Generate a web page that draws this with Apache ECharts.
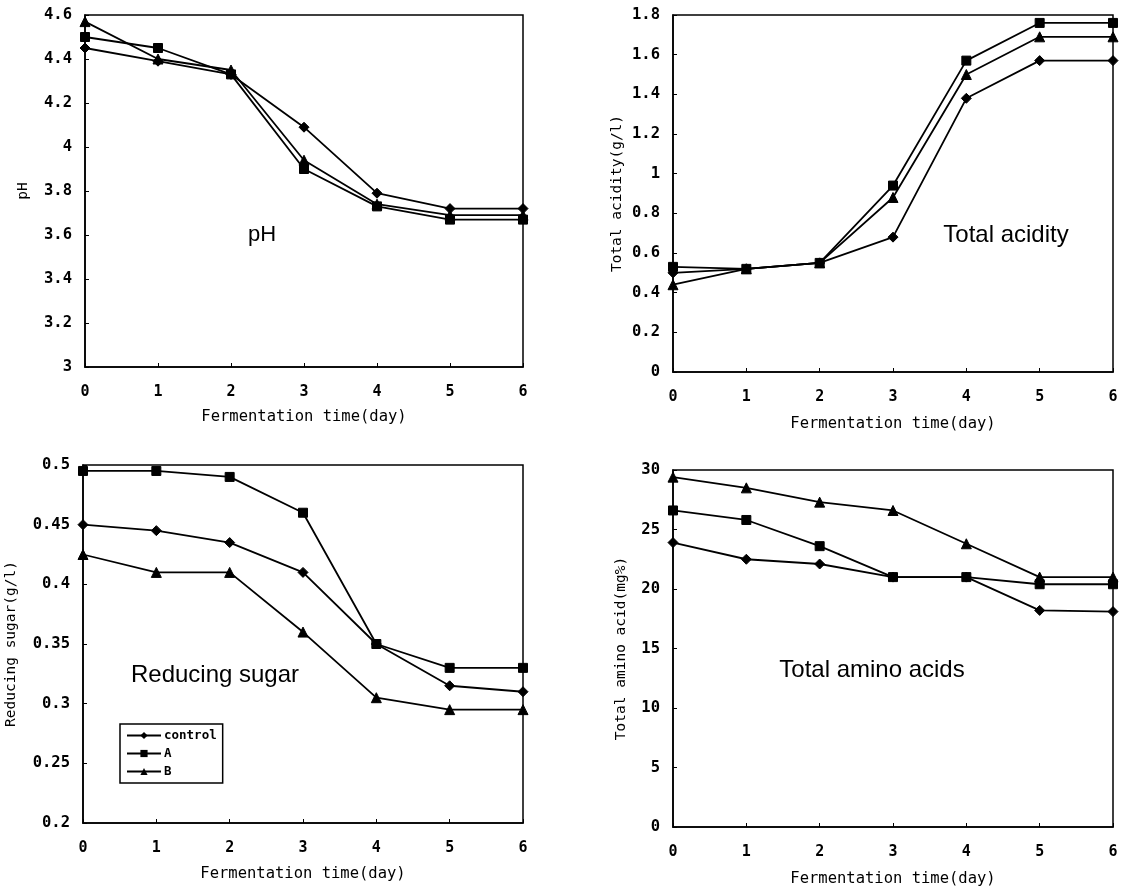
<!DOCTYPE html>
<html>
<head>
<meta charset="utf-8">
<script src="https://cdn.jsdelivr.net/npm/echarts@6/dist/echarts.min.js"></script>
<style>
html,body{margin:0;padding:0;background:#fff;}
#chart{width:1127px;height:889px;}
</style>
</head>
<body>
<div id="chart"></div>
<script>
// Categories (fermentation day)
const days = ['0','1','2','3','4','5','6'];
const seriesNames = ['control','A','B'];

// pH
const phControl = [4.45, 4.39, 4.33, 4.09, 3.79, 3.72, 3.72];
const phA       = [4.50, 4.45, 4.33, 3.90, 3.73, 3.67, 3.67];
const phB       = [4.57, 4.40, 4.35, 3.94, 3.74, 3.69, 3.69];

// Total acidity (g/l)
const taControl = [0.50, 0.52, 0.55, 0.68, 1.38, 1.57, 1.57];
const taA       = [0.53, 0.52, 0.55, 0.94, 1.57, 1.76, 1.76];
const taB       = [0.44, 0.52, 0.55, 0.88, 1.50, 1.69, 1.69];

// Reducing sugar (g/l)
const rsControl = [0.450, 0.445, 0.435, 0.410, 0.350, 0.315, 0.310];
const rsA       = [0.495, 0.495, 0.490, 0.460, 0.350, 0.330, 0.330];
const rsB       = [0.425, 0.410, 0.410, 0.360, 0.305, 0.295, 0.295];

// Total amino acid (mg%)
const aaControl = [23.9, 22.5, 22.1, 21.0, 21.0, 18.2, 18.1];
const aaA       = [26.6, 25.8, 23.6, 21.0, 21.0, 20.4, 20.4];
const aaB       = [29.4, 28.5, 27.3, 26.6, 23.8, 21.0, 21.0];

const panels = [
  {data:[phControl,phA,phB], yName:'pH', min:3, max:4.6, interval:0.2, dec:1, label:'pH'},
  {data:[taControl,taA,taB], yName:'Total acidity(g/l)', min:0, max:1.8, interval:0.2, dec:1, label:'Total acidity'},
  {data:[rsControl,rsA,rsB], yName:'Reducing sugar(g/l)', min:0.2, max:0.5, interval:0.05, dec:2, label:'Reducing sugar'},
  {data:[aaControl,aaA,aaB], yName:'Total amino acid(mg%)', min:0, max:30, interval:5, dec:0, label:'Total amino acids'}
];

// layout
const grids = [
  {left:85, top:15, width:438, height:352},
  {left:673, top:15, width:440, height:357},
  {left:83, top:465, width:440, height:358},
  {left:673, top:470, width:440, height:357}
];
const yNameGaps = [54, 48, 64, 44];
const xNameGaps = [42, 44, 43, 44];
const annot = [
  {x:262, y:235, size:22},
  {x:1006, y:235, size:24},
  {x:215, y:675, size:24},
  {x:872, y:670, size:24}
];

const MONO = '"DejaVu Sans Mono", "Liberation Mono", monospace';
const symbols = ['diamond','rect','triangle'];
const symSizes = [10, 9, 10];

const option = {
  backgroundColor:'#fff',
  animation:false,
  grid: grids.map(g => Object.assign({show:true, borderColor:'#000', borderWidth:1.5, containLabel:false}, g)),
  xAxis: panels.map((p,i) => ({
    type:'category', data:days, boundaryGap:false, gridIndex:i,
    axisLine:{lineStyle:{color:'#000', width:1.6}},
    axisTick:{inside:true, length:4, lineStyle:{color:'#000'}},
    axisLabel:{color:'#000', fontFamily:MONO, fontWeight:'bold', fontSize:15, margin:18},
    splitLine:{show:false},
    name:'Fermentation time(day)', nameLocation:'middle', nameGap:xNameGaps[i],
    nameTextStyle:{color:'#000', fontFamily:MONO, fontSize:15.5}
  })),
  yAxis: panels.map((p,i) => ({
    type:'value', gridIndex:i, min:p.min, max:p.max, interval:p.interval,
    axisLine:{show:true, lineStyle:{color:'#000', width:1.6}},
    axisTick:{show:true, inside:true, length:4, lineStyle:{color:'#000'}},
    axisLabel:{color:'#000', fontFamily:MONO, fontWeight:'bold', fontSize:15.5, margin:13,
      formatter: v => String(+(+v).toFixed(p.dec))},
    splitLine:{show:false},
    name:p.yName, nameLocation:'middle', nameRotate:90, nameGap:yNameGaps[i],
    nameTextStyle:{color:'#000', fontFamily:MONO, fontSize:14.5}
  })),
  legend:{
    data:seriesNames, orient:'vertical', left:120, top:724,
    itemWidth:34, itemHeight:9, itemGap:5,
    padding:[5,6,5,6], borderColor:'#000', borderWidth:1.5, backgroundColor:'#fff',
    textStyle:{color:'#000', fontFamily:MONO, fontWeight:'bold', fontSize:12.5, padding:[0,0,0,-2]},
    selectedMode:false
  },
  graphic: panels.map((p,i) => ({
    type:'text', x:annot[i].x, y:annot[i].y,
    style:{text:p.label, fill:'#000', font:annot[i].size + 'px "Liberation Sans", Arial, sans-serif',
      textAlign:'center', textVerticalAlign:'middle'}
  })),
  series: []
};

panels.forEach((p,i) => {
  p.data.forEach((arr,k) => {
    option.series.push({
      name:seriesNames[k], type:'line', xAxisIndex:i, yAxisIndex:i,
      data:arr, symbol:symbols[k], symbolSize:symSizes[k], showSymbol:true,
      lineStyle:{color:'#000', width:1.8}, itemStyle:{color:'#000', borderColor:'#000'},
      z: 3
    });
  });
});

const chart = echarts.init(document.getElementById('chart'), null, {renderer:'canvas'});
chart.setOption(option);
</script>
</body>
</html>
